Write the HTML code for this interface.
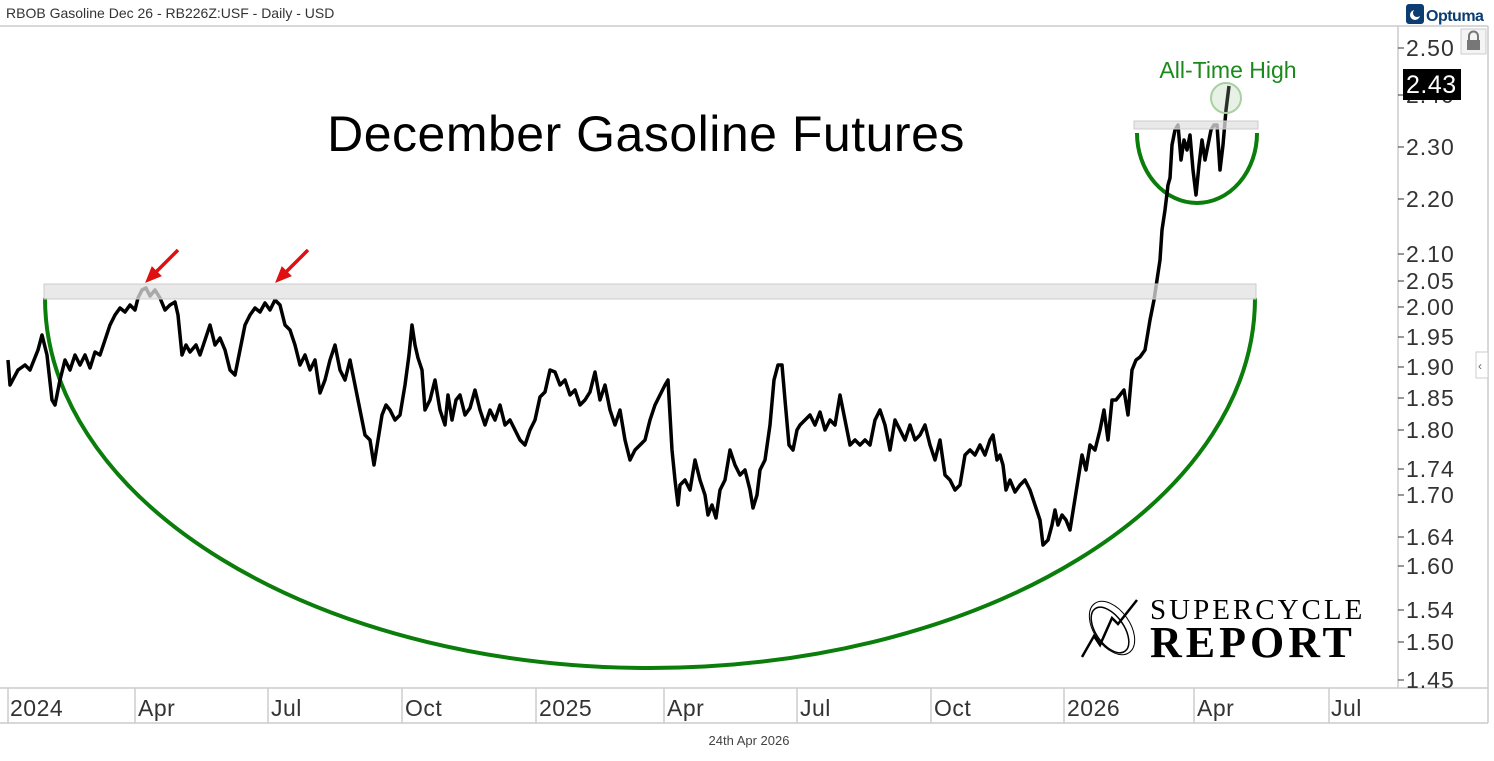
<!DOCTYPE html>
<html><head><meta charset="utf-8"><style>
body{margin:0;background:#fff;width:1494px;height:756px;overflow:hidden;font-family:"Liberation Sans",sans-serif;}
</style></head><body>
<svg width="1494" height="756" xmlns="http://www.w3.org/2000/svg" font-family="Liberation Sans, sans-serif">
<text x="6" y="18" font-size="14" fill="#333">RBOB Gasoline Dec 26 - RB226Z:USF - Daily - USD</text>
<rect x="1406" y="4" width="18" height="20" rx="3" fill="#0b3d73"/>
<circle cx="1415" cy="15" r="5" fill="#fff"/><circle cx="1417" cy="13" r="4" fill="#0b3d73"/>
<text x="1426" y="21" font-size="16" font-weight="bold" fill="#0b3d73" letter-spacing="-0.5">Optuma</text>
<g fill="none" stroke="#ccc" stroke-width="1.5">
<line x1="0" y1="26" x2="1488" y2="26"/><line x1="1398" y1="26" x2="1398" y2="688"/>
<line x1="1488" y1="26" x2="1488" y2="723"/><line x1="0" y1="688" x2="1488" y2="688"/>
<line x1="0" y1="723" x2="1488" y2="723"/>
<line x1="8" y1="688" x2="8" y2="723"/><line x1="135" y1="688" x2="135" y2="723"/><line x1="268" y1="688" x2="268" y2="723"/><line x1="402" y1="688" x2="402" y2="723"/><line x1="536" y1="688" x2="536" y2="723"/><line x1="664" y1="688" x2="664" y2="723"/><line x1="797" y1="688" x2="797" y2="723"/><line x1="931" y1="688" x2="931" y2="723"/><line x1="1064" y1="688" x2="1064" y2="723"/><line x1="1194" y1="688" x2="1194" y2="723"/><line x1="1329" y1="688" x2="1329" y2="723"/>
</g>
<rect x="1461" y="29" width="25" height="25" fill="#f4f4f4" stroke="#ccc"/>
<rect x="1467" y="40" width="13" height="10" fill="#777"/><path d="M1469 40v-4a4.5 4.5 0 0 1 9 0v4" stroke="#777" stroke-width="2" fill="none"/>
<rect x="1476" y="352" width="12" height="26" fill="#fff" stroke="#ccc"/><text x="1478" y="370" font-size="12" fill="#666">‹</text>
<g font-size="23" fill="#333" letter-spacing="0.5">
<text x="10" y="716">2024</text><text x="138" y="716">Apr</text><text x="271" y="716">Jul</text><text x="405" y="716">Oct</text><text x="539" y="716">2025</text><text x="667" y="716">Apr</text><text x="800" y="716">Jul</text><text x="934" y="716">Oct</text><text x="1067" y="716">2026</text><text x="1197" y="716">Apr</text><text x="1331" y="716">Jul</text>
</g>
<text x="749" y="745" font-size="13" fill="#444" text-anchor="middle">24th Apr 2026</text>
<g font-size="23" fill="#333" stroke="#333" letter-spacing="1">
<line x1="1398" y1="48" x2="1404" y2="48"/><text x="1406" y="56" stroke="none">2.50</text>
<line x1="1398" y1="95" x2="1404" y2="95"/><text x="1406" y="103" stroke="none">2.40</text>
<line x1="1398" y1="147" x2="1404" y2="147"/><text x="1406" y="155" stroke="none">2.30</text>
<line x1="1398" y1="199" x2="1404" y2="199"/><text x="1406" y="207" stroke="none">2.20</text>
<line x1="1398" y1="254" x2="1404" y2="254"/><text x="1406" y="262" stroke="none">2.10</text>
<line x1="1398" y1="281" x2="1404" y2="281"/><text x="1406" y="289" stroke="none">2.05</text>
<line x1="1398" y1="307" x2="1404" y2="307"/><text x="1406" y="315" stroke="none">2.00</text>
<line x1="1398" y1="337" x2="1404" y2="337"/><text x="1406" y="345" stroke="none">1.95</text>
<line x1="1398" y1="367" x2="1404" y2="367"/><text x="1406" y="375" stroke="none">1.90</text>
<line x1="1398" y1="398" x2="1404" y2="398"/><text x="1406" y="406" stroke="none">1.85</text>
<line x1="1398" y1="430" x2="1404" y2="430"/><text x="1406" y="438" stroke="none">1.80</text>
<line x1="1398" y1="469" x2="1404" y2="469"/><text x="1406" y="477" stroke="none">1.74</text>
<line x1="1398" y1="495" x2="1404" y2="495"/><text x="1406" y="503" stroke="none">1.70</text>
<line x1="1398" y1="537" x2="1404" y2="537"/><text x="1406" y="545" stroke="none">1.64</text>
<line x1="1398" y1="566" x2="1404" y2="566"/><text x="1406" y="574" stroke="none">1.60</text>
<line x1="1398" y1="610" x2="1404" y2="610"/><text x="1406" y="618" stroke="none">1.54</text>
<line x1="1398" y1="642" x2="1404" y2="642"/><text x="1406" y="650" stroke="none">1.50</text>
<line x1="1398" y1="680" x2="1404" y2="680"/><text x="1406" y="688" stroke="none">1.45</text>
</g>
<rect x="1403" y="69" width="58" height="31" fill="#000"/>
<text x="1406" y="93" font-size="25" fill="#fff" letter-spacing="0.5">2.43</text>
<text x="646" y="151" font-size="50" fill="#000" text-anchor="middle" letter-spacing="0.5">December Gasoline Futures</text>
<text x="1228" y="78" font-size="23" fill="#1a8a1a" text-anchor="middle">All-Time High</text>
<path d="M45 298 A605 370 0 0 0 1255 298" fill="none" stroke="#0a7d0a" stroke-width="4"/>
<path d="M1137 133 A60 70 0 0 0 1257 133" fill="none" stroke="#0a7d0a" stroke-width="4"/>
<polyline fill="none" stroke="#000" stroke-width="3.5" stroke-linejoin="round" points="8,360 10,385 18,370 25,365 30,370 38,350 42,335 47,355 52,400 55,405 60,380 65,360 70,370 75,355 80,365 85,355 90,368 95,352 100,355 105,340 110,325 115,315 120,308 125,312 130,305 135,310 138,298 142,290 146,288 150,296 155,290 160,298 165,310 170,305 175,302 178,315 182,355 186,345 190,352 196,345 200,355 205,340 210,325 215,345 220,338 225,350 230,370 235,375 240,350 245,325 250,315 255,308 260,312 265,303 270,310 275,300 280,305 285,325 290,330 295,345 300,365 305,355 310,370 315,360 320,393 325,380 330,360 335,345 340,370 345,380 350,360 355,385 360,410 365,435 370,440 374,465 378,440 382,415 386,405 390,410 395,420 400,415 405,385 409,355 412,325 415,345 418,358 422,370 425,410 430,400 435,380 440,410 445,425 448,395 452,420 456,400 460,395 465,415 470,408 475,390 480,410 485,425 490,410 495,420 500,405 505,425 510,420 515,430 520,440 525,445 530,430 535,420 540,397 545,392 550,370 555,372 560,385 565,380 570,395 575,390 580,405 585,400 590,392 595,372 600,400 605,385 610,410 615,425 620,410 625,440 630,460 635,450 640,445 645,440 650,420 655,405 660,395 665,385 668,380 672,450 675,480 678,505 680,485 685,480 690,490 695,460 700,480 705,495 708,515 712,505 716,518 720,490 725,480 730,450 735,465 740,475 745,470 750,490 753,508 757,495 760,470 765,460 770,425 774,380 778,365 782,365 785,400 789,445 793,450 797,430 800,425 805,420 810,415 815,425 820,412 825,430 830,420 835,425 840,395 845,420 850,445 855,440 860,445 865,440 870,445 875,420 880,410 885,425 890,450 895,420 900,430 905,440 910,425 915,440 920,435 925,425 930,445 935,460 940,440 945,475 950,480 955,490 960,485 965,455 970,450 975,455 980,445 985,455 990,440 993,435 997,460 1000,455 1003,465 1006,490 1010,480 1015,492 1020,485 1025,480 1030,490 1035,505 1040,520 1043,545 1048,540 1052,525 1055,510 1058,525 1062,515 1066,520 1070,530 1074,505 1078,480 1082,455 1086,470 1090,445 1095,450 1100,430 1104,410 1108,440 1112,400 1116,400 1120,395 1124,390 1128,415 1132,370 1136,360 1140,357 1145,350 1150,320 1154,300 1157,280 1160,260 1162,230 1165,210 1168,185 1170,178 1172,145 1175,130 1178,125 1181,160 1184,140 1187,150 1190,135 1193,170 1196,195 1199,165 1202,140 1205,160 1208,145 1211,130 1214,125 1217,125 1220,170 1223,145 1226,110 1229,86"/>
<rect x="44" y="284" width="1212" height="15" fill="rgba(225,225,225,0.75)" stroke="#ccc"/>
<rect x="1134" y="121" width="124" height="8" fill="rgba(225,225,225,0.75)" stroke="#ccc"/>
<circle cx="1226" cy="98" r="15" fill="rgba(160,200,150,0.25)" stroke="#a8d0a0" stroke-width="2"/>
<g stroke="#e01010" stroke-width="3.5" fill="#e01010">
<line x1="178" y1="250" x2="156" y2="272"/><polygon points="146,282 161,276 152,267" stroke-width="1"/>
<line x1="308" y1="250" x2="286" y2="272"/><polygon points="276,282 291,276 282,267" stroke-width="1"/>
</g>
<g stroke="#000" fill="none" stroke-width="1.5">
<ellipse cx="1110" cy="630" rx="14" ry="26" transform="rotate(-35 1110 630)"/>
<ellipse cx="1112" cy="628" rx="18" ry="30" transform="rotate(-35 1112 628)" stroke-width="1"/>
<polyline points="1082,657 1094,636 1100,645 1112,618 1118,624 1137,600" stroke-width="2.5"/>
</g>
<text x="1150" y="619" font-family="Liberation Serif, serif" font-size="29" letter-spacing="3" fill="#000">SUPERCYCLE</text>
<text x="1150" y="657" font-family="Liberation Serif, serif" font-size="44" font-weight="bold" letter-spacing="4" fill="#000">REPORT</text>
</svg>
</body></html>
